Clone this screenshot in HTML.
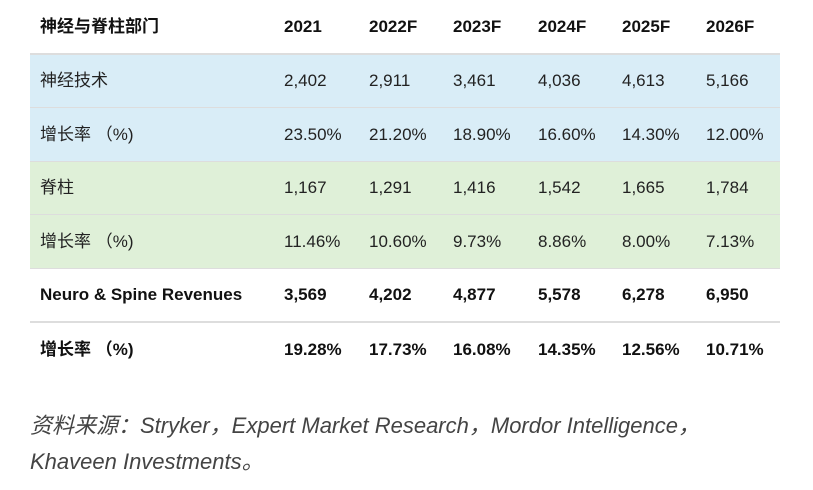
<!DOCTYPE html>
<html><head><meta charset="utf-8"><style>
body{margin:0;width:813px;height:490px;background:#fff;font-family:"Liberation Sans","Noto Sans CJK SC",sans-serif;color:#222;position:relative;overflow:hidden}
.row{position:absolute;left:30px;width:750px;font-size:17px}
.row span{position:absolute;top:0;white-space:nowrap}
.b{font-weight:bold;color:#111}
.src{position:absolute;left:30px;font-size:22px;font-style:italic;color:#444;white-space:nowrap}
</style></head><body>
<div id="tbl"></div>
<div class="src" style="top:408px">资料来源：Stryker，Expert Market Research，Mordor Intelligence，</div>
<div class="src" style="top:444px">Khaveen Investments。</div>
<script>
const cols=["2021","2022F","2023F","2024F","2025F","2026F"];
const labels=["神经与脊柱部门","神经技术","增长率 （%)","脊柱","增长率 （%)","Neuro & Spine Revenues","增长率 （%)"];
const neuro=["2,402","2,911","3,461","4,036","4,613","5,166"];
const neuroG=["23.50%","21.20%","18.90%","16.60%","14.30%","12.00%"];
const spine=["1,167","1,291","1,416","1,542","1,665","1,784"];
const spineG=["11.46%","10.60%","9.73%","8.86%","8.00%","7.13%"];
const total=["3,569","4,202","4,877","5,578","6,278","6,950"];
const totalG=["19.28%","17.73%","16.08%","14.35%","12.56%","10.71%"];
const rows=[cols,neuro,neuroG,spine,spineG,total,totalG];
const tops=[0,54,108,162,215,269,323];
const hs=[53,53,53,52,53,52,53];
const bgs=["#fff","#d9edf7","#d9edf7","#dff0d8","#dff0d8","#fff","#fff"];
const bold=[1,0,0,0,0,1,1];
const xs=[254,339,423,508,592,676];
const tbl=document.getElementById('tbl');
rows.forEach((r,i)=>{
 const d=document.createElement('div');
 
 
 d.className='row'+(bold[i]?' b':'');
 d.style.top=tops[i]+'px';d.style.height=hs[i]+'px';d.style.lineHeight=hs[i]+'px';d.style.background=bgs[i];
 const l=document.createElement('span');
 
 
 l.style.left='10px';l.textContent=labels[i];d.appendChild(l);
 r.forEach((v,j)=>{const s=document.createElement('span');
 
 
 s.style.left=xs[j]+'px';s.textContent=v;d.appendChild(s);});
 tbl.appendChild(d);
});
const lines=[[53,2],[107,1],[161,1],[214,1],[268,1],[321,2]];
lines.forEach(l=>{const e=document.createElement('div');
 
 
 e.style.cssText='position:absolute;left:30px;width:750px;background:#ddd;top:'+l[0]+'px;height:'+l[1]+'px';tbl.appendChild(e);});
</script>
</body></html>
